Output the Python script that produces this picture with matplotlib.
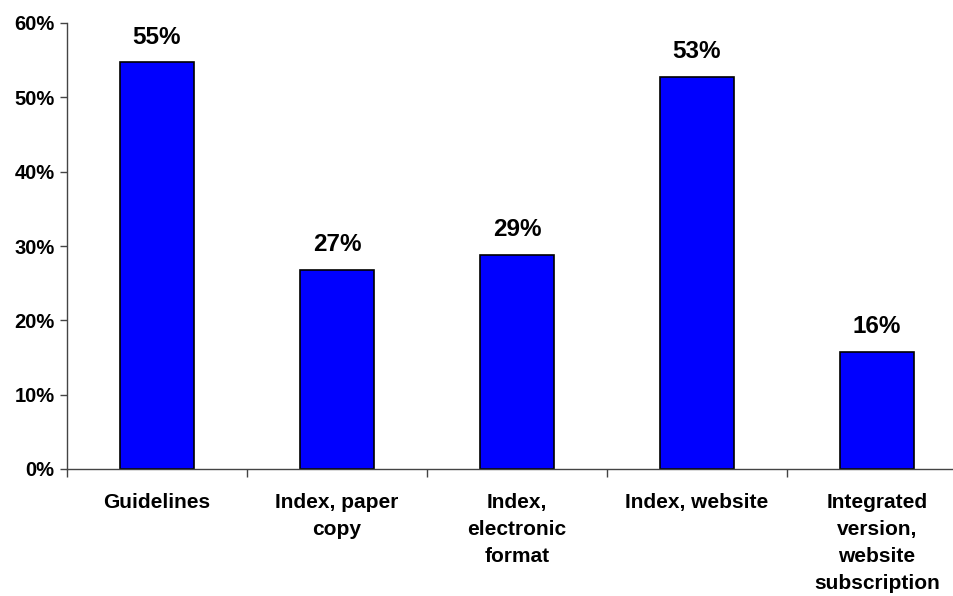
import matplotlib
matplotlib.use("Agg")
import matplotlib.pyplot as plt
from matplotlib.ticker import FuncFormatter

categories = ["Guidelines", "Index, paper\ncopy", "Index,\nelectronic\nformat",
              "Index, website", "Integrated\nversion,\nwebsite\nsubscription"]
values = [54.7, 26.8, 28.8, 52.7, 15.7]
labels = ["55%", "27%", "29%", "53%", "16%"]
yticks = [0, 10, 20, 30, 40, 50, 60]

plt.rcParams['font.family'] = ['Liberation Sans', 'DejaVu Sans']
plt.rcParams['font.weight'] = 'bold'

fig = plt.figure(figsize=(9.54, 5.96), dpi=100)
W, H = 954, 596
x0, x1 = 67, 967
y0, y1 = 469, 23
ax = fig.add_axes([x0 / W, 1 - y0 / H, (x1 - x0) / W, (y0 - y1) / H])

xs = range(len(categories))
ax.bar(xs, values, width=0.41, color="#0000FF", edgecolor="black", linewidth=1.2, zorder=2)
for x, v, t in zip(xs, values, labels):
    ax.annotate(t, (x, v), xytext=(0, 10), textcoords="offset points",
                ha="center", va="bottom", fontsize=17.5, fontweight="bold")

ax.set_xlim(-0.5, len(categories) - 0.5)
ax.set_ylim(0, 60)
ax.set_yticks(yticks)
ax.yaxis.set_major_formatter(FuncFormatter(lambda v, p: f"{int(v)}%"))
ax.tick_params(axis="y", labelsize=14.5, length=5, width=1, direction="out", pad=4)

ax.set_xticks([i + 0.5 for i in range(-1, len(categories))])
ax.set_xticklabels([])
ax.set_xticks(list(xs), minor=True)
ax.set_xticklabels(categories, minor=True, fontsize=15, fontweight="bold", linespacing=1.55)
ax.tick_params(axis="x", which="major", length=6, width=1, direction="out")
ax.tick_params(axis="x", which="minor", length=0, pad=17)

for s in ["top", "right"]:
    ax.spines[s].set_visible(False)
for s in ["left", "bottom"]:
    ax.spines[s].set_color("#444444")
    ax.spines[s].set_linewidth(1)
ax.tick_params(colors="#444444", labelcolor="black")

fig.savefig("out.png", dpi=100)
